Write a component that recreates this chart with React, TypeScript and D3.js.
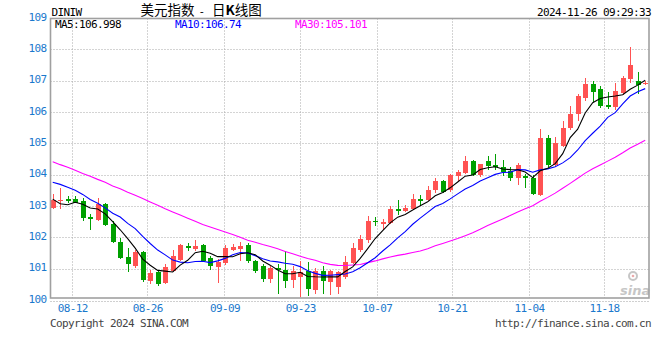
import React from 'react';
import * as d3 from 'd3';

// ---- data (80 daily candles) ----
const opens = [
  102.93, 103.17, 103.21, 103.21, 103.16, 102.65, 102.56, 103.05, 102.41, 101.85,
  101.37, 101.10, 101.53, 100.62, 100.89, 100.54, 100.94, 101.29, 101.71, 101.64,
  101.74, 101.33, 101.05, 101.18, 101.61, 101.64, 101.74, 101.23, 101.10, 100.66,
  101.02, 100.96, 100.65, 100.72, 100.91, 100.31, 100.92, 100.59, 100.41, 100.75,
  101.18, 101.58, 101.93, 102.53, 102.44, 102.46, 102.89, 102.85, 102.90, 103.22,
  103.18, 103.50, 103.80, 103.50, 103.95, 104.05, 104.43, 103.98, 104.44, 104.30,
  104.25, 104.13, 103.90, 103.95, 103.89, 103.36, 105.17, 104.30, 104.91, 105.48,
  105.93, 106.44, 106.89, 106.72, 106.22, 106.15, 106.62, 107.05, 107.00, 106.90,
];
const highs = [
  103.37, 103.56, 103.31, 103.31, 103.27, 102.73, 103.25, 103.08, 102.51, 101.99,
  101.66, 101.58, 101.55, 100.97, 100.94, 101.16, 101.58, 101.80, 101.81, 101.93,
  101.80, 101.40, 101.31, 101.76, 101.79, 101.84, 101.81, 101.27, 101.16, 101.10,
  101.16, 101.56, 101.10, 101.26, 101.21, 101.02, 101.10, 100.95, 100.94, 101.39,
  101.83, 102.09, 102.68, 102.65, 102.60, 102.99, 103.18, 103.02, 103.37, 103.34,
  103.63, 103.89, 103.82, 104.03, 104.14, 104.59, 104.46, 104.35, 104.59, 104.65,
  104.46, 104.23, 104.37, 104.03, 103.98, 105.46, 105.26, 105.21, 105.71, 106.19,
  106.56, 107.09, 106.99, 106.83, 106.64, 106.91, 107.16, 108.08, 107.28, 106.98,
];
const lows = [
  102.89, 102.89, 103.09, 103.08, 102.51, 102.25, 102.52, 102.36, 101.82, 101.32,
  100.89, 101.03, 100.57, 100.52, 100.46, 100.52, 100.88, 101.23, 101.56, 101.57,
  101.23, 100.97, 100.55, 101.12, 101.56, 101.26, 101.19, 100.86, 100.57, 100.54,
  100.18, 100.39, 100.39, 100.11, 100.14, 100.18, 100.19, 100.15, 100.18, 100.67,
  101.16, 101.53, 101.83, 102.35, 102.24, 102.44, 102.70, 102.81, 102.88, 102.99,
  103.16, 103.41, 103.43, 103.45, 103.80, 104.03, 103.95, 103.93, 104.14, 104.14,
  103.97, 103.80, 103.66, 103.57, 103.34, 103.31, 104.25, 104.28, 104.89, 105.43,
  105.71, 106.35, 106.32, 106.14, 106.09, 106.06, 106.54, 106.94, 106.56, 106.85,
];
const closes = [
  103.18, 103.20, 103.16, 103.11, 102.62, 102.58, 103.05, 102.39, 101.85, 101.34,
  101.16, 101.53, 100.65, 100.87, 100.52, 101.04, 101.39, 101.74, 101.65, 101.73,
  101.26, 101.07, 101.21, 101.67, 101.69, 101.73, 101.23, 100.92, 100.66, 101.02,
  100.97, 100.62, 100.92, 100.89, 100.36, 100.91, 100.60, 100.94, 100.88, 101.21,
  101.66, 101.94, 102.51, 102.49, 102.49, 102.89, 102.84, 102.93, 103.22, 103.17,
  103.50, 103.80, 103.45, 103.98, 104.09, 104.44, 103.98, 104.33, 104.27, 104.25,
  104.08, 103.88, 104.30, 103.90, 103.37, 105.17, 104.30, 105.01, 105.50, 105.93,
  106.51, 106.89, 106.64, 106.19, 106.16, 106.67, 107.09, 107.51, 106.86, 106.94,
];

// moving-average values read off the picture where the earlier closes are not shown
const ma5Head = [103.22, 103.07, 103.04, 103.12];
const ma10Head = [103.76, 103.69, 103.60, 103.50, 103.37, 103.21, 103.09, 102.94, 102.77];
const ma30Head = [
  104.41, 104.32, 104.24, 104.14, 104.04, 103.95, 103.85, 103.76, 103.64, 103.55,
  103.44, 103.34, 103.24, 103.13, 103.02, 102.91, 102.81, 102.71, 102.61, 102.51,
  102.41, 102.33, 102.25, 102.17, 102.09, 102.00, 101.91, 101.84, 101.77,
];

const yTicks = [100, 101, 102, 103, 104, 105, 106, 107, 108, 109];
const xTickLabels = ['08-12', '08-26', '09-09', '09-23', '10-07', '10-21', '11-04', '11-18'];
const xTickIndex = [2.6, 12.6, 22.9, 33.0, 43.2, 53.2, 63.5, 73.5];
const legendLabels = ['MA5:106.998', 'MA10:106.74', 'MA30:105.101'];
const legendColors = ['#000000', '#0000ff', '#ff00ff'];
const legendX = [55, 175, 295];

const UP = '#ff5252';
const DOWN = '#00a000';
const AXIS_BLUE = '#1a78cc';
const MONO = '"DejaVu Sans Mono", "Liberation Mono", monospace';
const CJK = '"Noto Sans CJK SC", "Noto Sans", sans-serif';

function movingAverage(period: number, head: number[]): number[] {
  return closes.map((_, i) =>
    i < head.length ? head[i] : (d3.mean(closes.slice(i - period + 1, i + 1)) as number)
  );
}

export default function App() {
  const left = 50.5, right = 649, top = 18.5, bottom = 298;
  const x = d3.scaleLinear().domain([0, closes.length - 1]).range([52.7, 645.2]);
  const y = d3.scaleLinear().domain([100, 109]).range([300, 18]);

  const ma5 = movingAverage(5, ma5Head);
  const ma10 = movingAverage(10, ma10Head);
  const ma30 = movingAverage(30, ma30Head);
  const line = d3.line<number>().x((_, i) => x(i)).y((d) => y(d));

  const monoText = { fontFamily: MONO, fontSize: 11, letterSpacing: -0.62 } as React.CSSProperties;

  return (
    <svg width={660} height={360} style={{ position: 'absolute', left: 0, top: 0, background: '#fff' }}>
      <rect x={0} y={0} width={660} height={360} fill="#fff" />

      {/* header */}
      <text x={51.5} y={15.5} style={monoText} fill="#000">DINIW</text>
      <text x={140.5} y={15} fontFamily={CJK} fontSize={13.5} fill="#000">美元指数</text>
      <text x={201.5} y={15} style={monoText} fill="#000" textAnchor="middle">-</text>
      <text x={212} y={15} fontFamily={CJK} fontSize={13.5} fill="#000">日<tspan fontWeight="bold">K</tspan>线图</text>
      <text x={651} y={15.5} style={monoText} fill="#000" textAnchor="end">2024-11-26 09:29:33</text>

      {/* horizontal grid */}
      {yTicks.filter((v) => v > 100 && v < 109).map((v) => (
        <line key={'hg' + v} x1={left} x2={right} y1={Math.round(y(v)) + 0.5} y2={Math.round(y(v)) + 0.5}
          stroke="#a8a8a8" strokeDasharray="1 2" />
      ))}
      {/* vertical grid */}
      {xTickIndex.map((t, k) => (
        <line key={'vg' + k} x1={Math.round(x(t)) + 0.5} x2={Math.round(x(t)) + 0.5} y1={top} y2={bottom}
          stroke="#a8a8a8" strokeDasharray="1 2" />
      ))}

      {/* y labels */}
      {yTicks.map((v) => (
        <text key={'yl' + v} x={46.5} y={y(v) + 2.5} style={monoText} fill={AXIS_BLUE} textAnchor="end">{v}</text>
      ))}

      {/* x labels */}
      {xTickIndex.map((t, k) => (
        <text key={'xl' + k} x={x(t) + 0.5} y={312} style={monoText} fill={AXIS_BLUE} textAnchor="middle">{xTickLabels[k]}</text>
      ))}

      {/* candles */}
      <g shapeRendering="crispEdges">
        {closes.map((c, i) => {
          const o = opens[i];
          const up = c >= o;
          const col = up ? UP : DOWN;
          const cx = Math.round(x(i));
          const yTop = y(Math.max(o, c));
          const yBot = y(Math.min(o, c));
          const h = Math.max(yBot - yTop, 1.6);
          return (
            <g key={'c' + i}>
              <rect x={cx} y={y(highs[i])} width={1} height={y(lows[i]) - y(highs[i])} fill={col} />
              <rect x={cx - 2} y={yTop} width={5} height={h} fill={col} />
            </g>
          );
        })}
      </g>

      {/* moving averages */}
      <path d={line(ma30) || ''} fill="none" stroke="#ff00ff" strokeWidth={1.1} />
      <path d={line(ma10) || ''} fill="none" stroke="#0000ff" strokeWidth={1.1} />
      <path d={line(ma5) || ''} fill="none" stroke="#000000" strokeWidth={1.1} />

      {/* legend */}
      {legendLabels.map((s, k) => (
        <text key={'lg' + k} x={legendX[k]} y={27.5} style={monoText} fill={legendColors[k]}>{s}</text>
      ))}

      {/* sina watermark */}
      <g opacity={0.55}>
        <circle cx={633} cy={276} r={4} fill="none" stroke="#999" strokeWidth={2} />
        <circle cx={633} cy={276} r={1.3} fill="#d66" />
        <text x={620} y={295} fontFamily='"DejaVu Sans", sans-serif' fontSize={13} fontWeight="bold" fontStyle="italic" fill="#999">sina</text>
      </g>

      {/* frame */}
      <rect x={left} y={top} width={right - left} height={bottom - top} fill="none" stroke="#a0a0a0" strokeWidth={1.6} />
      <line x1={left} x2={right + 1} y1={301.5} y2={301.5} stroke="#a0a0a0" strokeDasharray="1 2" />

      {/* footer */}
      <text x={50} y={327} style={monoText} fill="#444">Copyright 2024 SINA.COM</text>
      <text x={651} y={327} style={monoText} fill="#444" textAnchor="end">http://finance.sina.com.cn</text>
    </svg>
  );
}
